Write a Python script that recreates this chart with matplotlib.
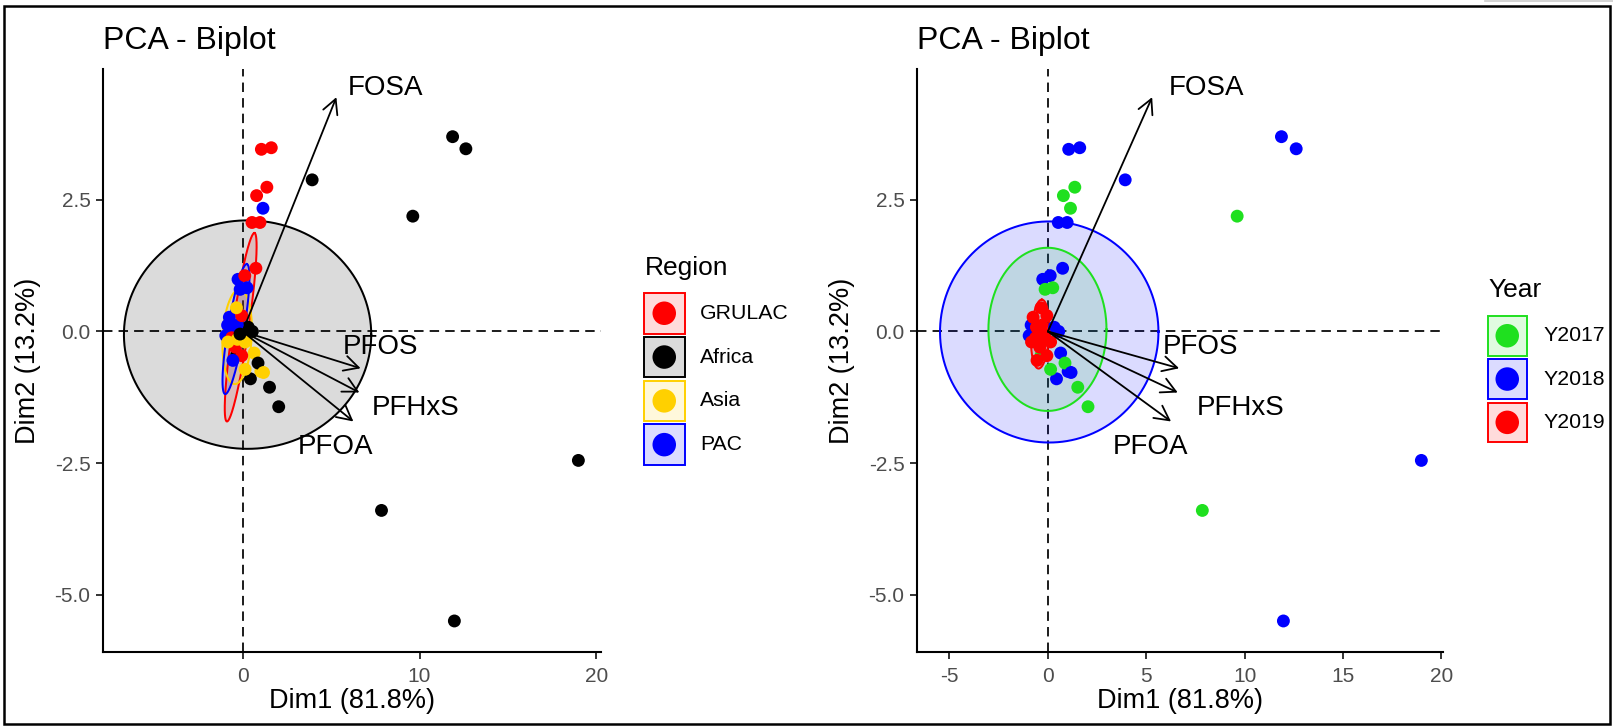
import numpy as np
import matplotlib
matplotlib.use('Agg')
import matplotlib.pyplot as plt
from matplotlib.patches import Rectangle, Ellipse
from matplotlib.colors import to_rgb

plt.rcParams['font.family'] = ['Liberation Sans', 'DejaVu Sans']
plt.rcParams['lines.scale_dashes'] = False

# ---------------- data ----------------
dim1 = [11.87, 12.62, 3.93, 9.62, 18.98, 7.85, 11.97, 1.52, 2.04,
        1.06, 1.62, 1.37, 0.79, 1.15, 0.53, 0.98, 0.75, -0.26, 0.12, -0.14, 0.25,
        0.55, 0.32, -0.95, -0.85, 0.65, 1.03, 0.87, 0.44, 0.14, -0.33, 1.18,
        -0.75, -0.58, -0.42, -0.30, -0.05, -0.41, -0.05, -0.62, 0.14, -0.30, -0.83, -0.15, -0.35, -0.55]
dim2 = [3.70, 3.47, 2.88, 2.19, -2.45, -3.40, -5.50, -1.06, -1.43,
        3.46, 3.49, 2.74, 2.58, 2.34, 2.07, 2.07, 1.20, 0.99, 1.06, 0.80, 0.83,
        0.00, 0.08, -0.08, 0.12, -0.41, -0.76, -0.60, -0.90, -0.72, -0.44, -0.78,
        0.27, 0.08, 0.02, 0.12, 0.30, -0.30, -0.46, -0.12, -0.20, -0.15, -0.20, -0.05, 0.45, -0.55]
region = ['Africa'] * 9 + \
         ['GRULAC', 'GRULAC', 'GRULAC', 'GRULAC', 'PAC', 'GRULAC', 'GRULAC', 'GRULAC', 'PAC', 'GRULAC', 'PAC', 'PAC'] + \
         ['Africa', 'Africa', 'PAC', 'PAC', 'Asia', 'Asia', 'Africa', 'Africa', 'Asia', 'Africa', 'Asia'] + \
         ['PAC', 'PAC', 'PAC', 'PAC', 'GRULAC', 'GRULAC', 'GRULAC', 'GRULAC', 'Asia', 'Asia', 'Asia', 'Africa', 'Asia', 'PAC']
year = ['Y2018', 'Y2018', 'Y2018', 'Y2017', 'Y2018', 'Y2017', 'Y2018', 'Y2017', 'Y2017',
        'Y2018', 'Y2018', 'Y2017', 'Y2017', 'Y2017', 'Y2018', 'Y2018', 'Y2018', 'Y2018', 'Y2018', 'Y2017', 'Y2017',
        'Y2018', 'Y2018', 'Y2018', 'Y2018', 'Y2018', 'Y2018', 'Y2017', 'Y2018', 'Y2017', 'Y2017', 'Y2018'] + \
       ['Y2019'] * 14

var_names = ['FOSA', 'PFOS', 'PFHxS', 'PFOA']
var_x = [5.30, 6.67, 6.60, 6.26]
var_y = [4.45, -0.70, -1.16, -1.71]
lab_x = [8.08, 7.77, 9.80, 5.24]
lab_y = [4.63, -0.30, -1.45, -2.20]

region_levels = ['GRULAC', 'Africa', 'Asia', 'PAC']
region_colors = ['#FF0000', '#000000', '#FFD000', '#0000FF']
year_levels = ['Y2017', 'Y2018', 'Y2019']
year_colors = ['#1FE01F', '#0000FF', '#FF0000']

# confidence ellipses: centre and two half-axis vectors (data units)
region_ell_c = [(-0.11, 0.08), (0.28, -0.06), (-0.31, -0.10), (-0.375, 0.045)]
region_ell_a = [(0.78, 1.79), (6.99, 0.0), (0.15, 0.90), (0.615, 1.235)]
region_ell_b = [(0.45, -0.022), (0.0, 2.17), (0.82, -0.02), (0.45, -0.025)]
year_ell_c = [(-0.02, 0.04), (0.07, -0.01), (-0.39, -0.05)]
year_ell_a = [(3.0, 0.0), (5.55, 0.0), (0.085, 0.655)]
year_ell_b = [(0.0, 1.55), (0.0, 2.10), (0.46, -0.005)]

x_label = 'Dim1 (81.8%)'
y_label = 'Dim2 (13.2%)'
title = 'PCA - Biplot'

# ---------------- figure ----------------
W, H = 1613, 727
fig = plt.figure(figsize=(W / 100, H / 100), dpi=100)
FILL_A = 0.14


def mix(c, a=FILL_A):
    r = np.array(to_rgb(c))
    return tuple(1 - a + a * r)


def px_axes(x0, x1, ytop, ybot):
    return fig.add_axes([x0 / W, 1 - ybot / H, (x1 - x0) / W, (ybot - ytop) / H])


def panel(ax, groups, levels, colors, ell_c, ell_a, ell_b, xlim, xticks):
    ax.set_xlim(*xlim)
    ax.set_ylim(-6.08, 4.98)
    ax.axhline(0, color='black', lw=1.25, ls=(0, (6.8, 4.4)), zorder=1)
    ax.axvline(0, color='black', lw=1.25, ls=(0, (6.8, 4.4)), zorder=1)
    t = np.linspace(0, 2 * np.pi, 300)
    for lev, col, c, a, b in zip(levels, colors, ell_c, ell_a, ell_b):
        ex = c[0] + a[0] * np.cos(t) + b[0] * np.sin(t)
        ey = c[1] + a[1] * np.cos(t) + b[1] * np.sin(t)
        ax.fill(ex, ey, facecolor=col, alpha=FILL_A, edgecolor='none', zorder=2)
        ax.plot(ex, ey, color=col, lw=1.45, zorder=2.5)
    cmap = dict(zip(levels, colors))
    ax.scatter(dim1, dim2, s=86, c=[cmap[g] for g in groups], linewidths=0, zorder=3)
    for name, vx, vy, lx, ly in zip(var_names, var_x, var_y, lab_x, lab_y):
        ax.annotate('', xy=(vx, vy), xytext=(0, 0),
                    arrowprops=dict(arrowstyle='->,head_length=0.8,head_width=0.42',
                                    mutation_scale=13, lw=1.3, color='black',
                                    shrinkA=0, shrinkB=0), zorder=4)
        ax.text(lx, ly, name, fontsize=20, ha='center', va='center', color='black', zorder=5)
    ax.set_xticks(xticks)
    ax.set_xticklabels([str(v) for v in xticks])
    ax.set_yticks([-5.0, -2.5, 0.0, 2.5])
    ax.set_yticklabels(['-5.0', '-2.5', '0.0', '2.5'])
    for s in ['top', 'right']:
        ax.spines[s].set_visible(False)
    for s in ['left', 'bottom']:
        ax.spines[s].set_linewidth(1.5)
    ax.tick_params(axis='both', length=4.8, width=1.4, color='#333333',
                   labelcolor='#4D4D4D', labelsize=15)
    ax.tick_params(axis='y', pad=4)
    ax.tick_params(axis='x', pad=6)
    ax.patch.set_alpha(0)


axL = px_axes(102.7, 601.2, 69.3, 651.5)
panel(axL, region, region_levels, region_colors, region_ell_c, region_ell_a, region_ell_b,
      (-7.91, 20.27), [0, 10, 20])
axR = px_axes(916.6, 1442.8, 69.3, 651.5)
panel(axR, year, year_levels, year_colors, year_ell_c, year_ell_a, year_ell_b,
      (-6.67, 20.07), [-5, 0, 5, 10, 15, 20])

# ---------------- overlay (titles, labels, legends, frame) ----------------
ov = fig.add_axes([0, 0, 1, 1])
ov.set_xlim(0, W)
ov.set_ylim(H, 0)
ov.axis('off')
ov.patch.set_alpha(0)

for x0, x1 in [(102.7, 601.2), (916.6, 1442.8)]:
    ov.text(x0, 48.6, title, fontsize=23, ha='left', va='baseline', color='black')
    ov.text((x0 + x1) / 2, 707.5, x_label, fontsize=19.5, ha='center', va='baseline')
    ov.text(x0 - 74.2, 360.4, y_label, fontsize=19.5, ha='center', va='center', rotation=90)


def legend(title_txt, tx, tbase, levels, colors, kx, ktop, step, ksize, lx):
    ov.text(tx, tbase, title_txt, fontsize=19, ha='left', va='baseline')
    for i, (lev, col) in enumerate(zip(levels, colors)):
        y0 = ktop + i * step
        ov.add_patch(Rectangle((kx, y0), ksize, ksize, facecolor=mix(col), edgecolor=col, lw=1.4))
        ov.add_patch(Ellipse((kx + ksize / 2, y0 + ksize / 2), 23.5, 23.5, facecolor=col, edgecolor='none'))
        ov.text(lx, y0 + ksize / 2, lev, fontsize=15.3, ha='left', va='center')


legend('Region', 645, 275, region_levels, region_colors, 644, 293, 43.8, 40.5, 700)
legend('Year', 1488.3, 296.7, year_levels, year_colors, 1487.5, 316, 43.3, 39.5, 1543.3)

ov.add_patch(Rectangle((4, 5.5), 1606, 718.5, facecolor='none', edgecolor='black', lw=1.8))
ov.plot([1485, 1613], [0.8, 0.8], color='#CCCCCC', lw=1.2)

fig.savefig('out.png', dpi=100)
